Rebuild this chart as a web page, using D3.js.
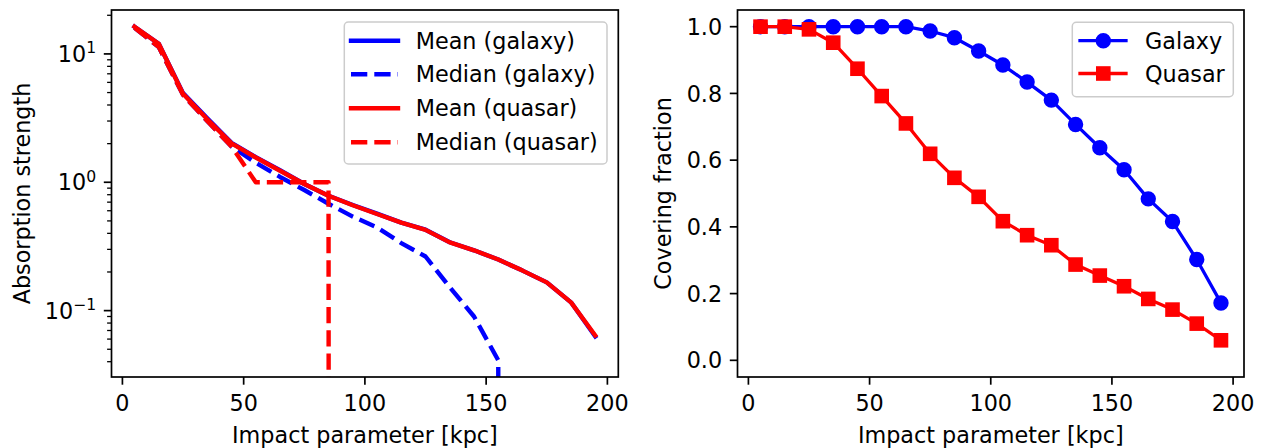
<!DOCTYPE html>
<html>
<head>
<meta charset="utf-8">
<script src="https://cdn.jsdelivr.net/npm/d3@7"></script>
<style>
  html, body { margin: 0; padding: 0; background: #fff; }
  svg { display: block; }
  text { font-family: "DejaVu Sans", sans-serif; fill: #000; }
</style>
</head>
<body>
<svg id="chart" width="1271" height="448"></svg>
<script>
// ---------------- DATA ----------------
const impact = [5, 15, 25, 35, 45, 55, 65, 75, 85, 95, 105, 115, 125, 135, 145, 155, 165, 175, 185, 195];

// Left panel: absorption strength
const meanGalaxy   = [16.3, 12.0, 4.95, 3.15, 2.03, 1.57, 1.24, 0.97, 0.785, 0.665, 0.57, 0.485, 0.427, 0.341, 0.295, 0.25, 0.205, 0.166, 0.116, 0.063];
const medianGalaxy = [16.0, 11.3, 4.8, 3.0, 1.9, 1.42, 1.1, 0.87, 0.68, 0.54, 0.445, 0.336, 0.264, 0.152, 0.09, 0.041, 0, 0, 0, 0];
const meanQuasar   = [16.3, 12.0, 4.9, 3.1, 2.01, 1.56, 1.23, 0.97, 0.785, 0.662, 0.566, 0.485, 0.426, 0.34, 0.295, 0.25, 0.205, 0.166, 0.116, 0.064];
const medianQuasar = [16.0, 11.3, 4.8, 3.0, 1.9, 1.0, 1.0, 1.0, 1.0, 0, 0, 0, 0, 0, 0, 0, 0, 0, 0, 0];

// Right panel: covering fraction
const coverGalaxy = [1.0, 1.0, 1.0, 1.0, 1.0, 1.0, 1.0, 0.987, 0.967, 0.927, 0.885, 0.834, 0.78, 0.707, 0.637, 0.571, 0.484, 0.416, 0.302, 0.172];
const coverQuasar = [1.0, 1.0, 0.992, 0.952, 0.874, 0.792, 0.71, 0.619, 0.547, 0.49, 0.417, 0.375, 0.345, 0.287, 0.254, 0.222, 0.184, 0.152, 0.11, 0.06];

const xTicks = [0, 50, 100, 150, 200];
const leftYTicks = [0.1, 1, 10];
const leftYTickExp = ["\u22121", "0", "1"];
const rightYTicks = [0.0, 0.2, 0.4, 0.6, 0.8, 1.0];

const leftLegend = ["Mean (galaxy)", "Median (galaxy)", "Mean (quasar)", "Median (quasar)"];
const rightLegend = ["Galaxy", "Quasar"];

// ---------------- LAYOUT ----------------
const FS = 22.3;
const svg = d3.select("#chart");
const BLUE = "#0000ff", RED = "#ff0000";
const LW_THICK = 4.4, LW = 3.3, SPINE = 1.7;
const DASH = [16.3, 7.0];
const TICK = 7.7, MINOR = 4.4, PAD = 7.7;

const L = {left: 111.5, right: 618.3, top: 10, bottom: 377};
const R = {left: 737.5, right: 1244, top: 10, bottom: 377};

// x extent with matplotlib-style 5% margin
const xmin = d3.min(impact), xmax = d3.max(impact);
const xm = (xmax - xmin) * 0.05;
const xDomain = [xmin - xm, xmax + xm];

const xL = d3.scaleLinear().domain(xDomain).range([L.left, L.right]);
const xR = d3.scaleLinear().domain(xDomain).range([R.left, R.right]);

// log y extent: 5% margin in log-space, positive values only
const allLeft = [].concat(meanGalaxy, medianGalaxy, meanQuasar, medianQuasar).filter(v => v > 0);
const lmin = Math.log10(d3.min(allLeft)), lmax = Math.log10(d3.max(allLeft));
const lm = (lmax - lmin) * 0.05;
const yL = d3.scaleLog().domain([Math.pow(10, lmin - lm), Math.pow(10, lmax + lm)]).range([L.bottom, L.top]);
const yR = d3.scaleLinear().domain([-0.05, 1.05]).range([R.bottom, R.top]);

// clip paths
const defs = svg.append("defs");
defs.append("clipPath").attr("id", "clipL").append("rect")
  .attr("x", L.left).attr("y", L.top).attr("width", L.right - L.left).attr("height", L.bottom - L.top);
defs.append("clipPath").attr("id", "clipR").append("rect")
  .attr("x", R.left).attr("y", R.top).attr("width", R.right - R.left).attr("height", R.bottom - R.top);

// ---------------- LEFT PANEL ----------------
const gL = svg.append("g");
const clipPos = v => (v > 0 ? v : 1e-300);
const lineL = d3.line().x((d, i) => xL(impact[i])).y(d => yL(clipPos(d)));

const leftSeries = [
  {vals: meanGalaxy, color: BLUE, dash: null},
  {vals: medianGalaxy, color: BLUE, dash: DASH},
  {vals: meanQuasar, color: RED, dash: null},
  {vals: medianQuasar, color: RED, dash: DASH}
];
const plotL = gL.append("g").attr("clip-path", "url(#clipL)");
leftSeries.forEach(s => {
  plotL.append("path").datum(s.vals)
    .attr("d", lineL)
    .attr("fill", "none")
    .attr("stroke", s.color)
    .attr("stroke-width", LW_THICK)
    .attr("stroke-linejoin", "round")
    .attr("stroke-linecap", s.dash ? "butt" : "square")
    .attr("stroke-dasharray", s.dash ? s.dash.join(",") : null);
});

// Left x axis ticks
const axL = gL.append("g");
xTicks.forEach(t => {
  axL.append("line").attr("x1", xL(t)).attr("x2", xL(t))
    .attr("y1", L.bottom).attr("y2", L.bottom + TICK)
    .attr("stroke", "#000").attr("stroke-width", SPINE);
  axL.append("text").attr("x", xL(t)).attr("y", 410.7)
    .attr("text-anchor", "middle").attr("font-size", FS).text(t);
});
// Left y major ticks
leftYTicks.forEach((t, i) => {
  const y = yL(t);
  axL.append("line").attr("x1", L.left - TICK).attr("x2", L.left)
    .attr("y1", y).attr("y2", y).attr("stroke", "#000").attr("stroke-width", SPINE);
  const txt = axL.append("text").attr("x", L.left - TICK - PAD).attr("y", y + 8.1)
    .attr("text-anchor", "end").attr("font-size", FS);
  txt.append("tspan").text("10");
  txt.append("tspan").attr("dy", -8.6).attr("font-size", FS * 0.7).text(leftYTickExp[i]);
});
// Left y minor ticks
const [d0, d1] = yL.domain();
for (let e = Math.floor(Math.log10(d0)); e <= Math.ceil(Math.log10(d1)); e++) {
  for (let m = 2; m <= 9; m++) {
    const v = m * Math.pow(10, e);
    if (v >= d0 && v <= d1) {
      const y = yL(v);
      axL.append("line").attr("x1", L.left - MINOR).attr("x2", L.left)
        .attr("y1", y).attr("y2", y).attr("stroke", "#000").attr("stroke-width", 1.3);
    }
  }
}
// Left frame
gL.append("rect").attr("x", L.left).attr("y", L.top)
  .attr("width", L.right - L.left).attr("height", L.bottom - L.top)
  .attr("fill", "none").attr("stroke", "#000").attr("stroke-width", SPINE);

// Left labels
gL.append("text").attr("x", (L.left + L.right) / 2).attr("y", 443)
  .attr("text-anchor", "middle").attr("font-size", FS).text("Impact parameter [kpc]");
gL.append("text").attr("transform", `translate(30,${(L.top + L.bottom) / 2}) rotate(-90)`)
  .attr("text-anchor", "middle").attr("font-size", FS).text("Absorption strength");

// Left legend
const lgL = gL.append("g");
lgL.append("rect").attr("x", 344.3).attr("y", 22).attr("width", 607 - 344.3).attr("height", 164 - 22)
  .attr("rx", 4).attr("ry", 4)
  .attr("fill", "#fff").attr("fill-opacity", 0.8)
  .attr("stroke", "#cccccc").attr("stroke-width", 1.5);
const leftRows = [40.7, 74.3, 108.3, 142.3];
leftLegend.forEach((name, i) => {
  const s = leftSeries[i];
  lgL.append("line").attr("x1", 351).attr("x2", 398).attr("y1", leftRows[i]).attr("y2", leftRows[i])
    .attr("stroke", s.color).attr("stroke-width", LW_THICK)
    .attr("stroke-linecap", s.dash ? "butt" : "square")
    .attr("stroke-dasharray", s.dash ? s.dash.join(",") : null);
  lgL.append("text").attr("x", 415.7).attr("y", leftRows[i] + 7.8)
    .attr("font-size", FS).text(name);
});

// ---------------- RIGHT PANEL ----------------
const gR = svg.append("g");
const lineR = d3.line().x((d, i) => xR(impact[i])).y(d => yR(d));
const plotR = gR.append("g").attr("clip-path", "url(#clipR)");
const MS = 13.2;

// Galaxy
plotR.append("path").datum(coverGalaxy).attr("d", lineR)
  .attr("fill", "none").attr("stroke", BLUE).attr("stroke-width", LW)
  .attr("stroke-linejoin", "round").attr("stroke-linecap", "square");
plotR.selectAll(".gpt").data(coverGalaxy).enter().append("circle")
  .attr("cx", (d, i) => xR(impact[i])).attr("cy", d => yR(d)).attr("r", MS / 2)
  .attr("fill", BLUE).attr("stroke", BLUE).attr("stroke-width", 2.2);
// Quasar
plotR.append("path").datum(coverQuasar).attr("d", lineR)
  .attr("fill", "none").attr("stroke", RED).attr("stroke-width", LW)
  .attr("stroke-linejoin", "round").attr("stroke-linecap", "square");
plotR.selectAll(".qpt").data(coverQuasar).enter().append("rect")
  .attr("x", (d, i) => xR(impact[i]) - MS * 0.47).attr("y", d => yR(d) - MS * 0.47)
  .attr("width", MS * 0.94).attr("height", MS * 0.94)
  .attr("fill", RED).attr("stroke", RED).attr("stroke-width", 2.2);

const axR = gR.append("g");
xTicks.forEach(t => {
  axR.append("line").attr("x1", xR(t)).attr("x2", xR(t))
    .attr("y1", R.bottom).attr("y2", R.bottom + TICK)
    .attr("stroke", "#000").attr("stroke-width", SPINE);
  axR.append("text").attr("x", xR(t)).attr("y", 410.7)
    .attr("text-anchor", "middle").attr("font-size", FS).text(t);
});
rightYTicks.forEach(t => {
  const y = yR(t);
  axR.append("line").attr("x1", R.left - TICK).attr("x2", R.left)
    .attr("y1", y).attr("y2", y).attr("stroke", "#000").attr("stroke-width", SPINE);
  axR.append("text").attr("x", R.left - TICK - PAD).attr("y", y + 8.1)
    .attr("text-anchor", "end").attr("font-size", FS).text(d3.format(".1f")(t));
});
gR.append("rect").attr("x", R.left).attr("y", R.top)
  .attr("width", R.right - R.left).attr("height", R.bottom - R.top)
  .attr("fill", "none").attr("stroke", "#000").attr("stroke-width", SPINE);

gR.append("text").attr("x", (R.left + R.right) / 2).attr("y", 443)
  .attr("text-anchor", "middle").attr("font-size", FS).text("Impact parameter [kpc]");
gR.append("text").attr("transform", `translate(671,${(R.top + R.bottom) / 2}) rotate(-90)`)
  .attr("text-anchor", "middle").attr("font-size", FS).text("Covering fraction");

// Right legend
const lgR = gR.append("g");
lgR.append("rect").attr("x", 1072.3).attr("y", 22.3).attr("width", 1233.3 - 1072.3).attr("height", 96.7 - 22.3)
  .attr("rx", 4).attr("ry", 4)
  .attr("fill", "#fff").attr("fill-opacity", 0.8)
  .attr("stroke", "#cccccc").attr("stroke-width", 1.5);
const rightRows = [40.7, 73.5];
const rightColors = [BLUE, RED];
rightLegend.forEach((name, i) => {
  const y = rightRows[i];
  lgR.append("line").attr("x1", 1080).attr("x2", 1126).attr("y1", y).attr("y2", y)
    .attr("stroke", rightColors[i]).attr("stroke-width", LW).attr("stroke-linecap", "square");
  if (i === 0) {
    lgR.append("circle").attr("cx", 1103.3).attr("cy", y).attr("r", MS / 2)
      .attr("fill", BLUE).attr("stroke", BLUE).attr("stroke-width", 2.2);
  } else {
    lgR.append("rect").attr("x", 1103.3 - MS * 0.47).attr("y", y - MS * 0.47)
      .attr("width", MS * 0.94).attr("height", MS * 0.94)
      .attr("fill", RED).attr("stroke", RED).attr("stroke-width", 2.2);
  }
  lgR.append("text").attr("x", 1145).attr("y", y + 8.2).attr("font-size", FS).text(name);
});
</script>
</body>
</html>
